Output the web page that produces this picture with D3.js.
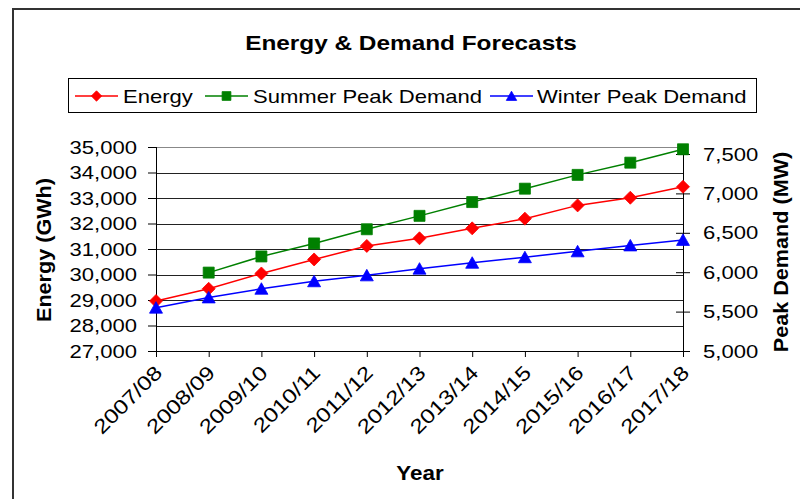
<!DOCTYPE html>
<html>
<head>
<meta charset="utf-8">
<script src="https://cdn.jsdelivr.net/npm/d3@7"></script>
<style>
  html, body { margin: 0; padding: 0; background: #fff; }
  svg { display: block; font-family: "Liberation Sans", Arial, sans-serif; }
</style>
</head>
<body>
<svg id="chart" width="800" height="499"></svg>
<script>
const years = ["2007/08","2008/09","2009/10","2010/11","2011/12","2012/13","2013/14","2014/15","2015/16","2016/17","2017/18"];
const energy = [28960, 29440, 30040, 30590, 31120, 31420, 31810, 32190, 32710, 33010, 33440];
const summerPeak = [null, 5995, 6200, 6365, 6545, 6715, 6890, 7060, 7235, 7390, 7560];
const winterPeak = [5550, 5680, 5790, 5885, 5960, 6045, 6120, 6190, 6265, 6340, 6410];
const energyTicks = [27000, 28000, 29000, 30000, 31000, 32000, 33000, 34000, 35000];
const demandTicks = [5000, 5500, 6000, 6500, 7000, 7500];

const svg = d3.select("#chart");
const L = 156, R = 683, T = 147, B = 351;

function stretch(sel, f) {
  sel.each(function() {
    const len = this.getComputedTextLength();
    d3.select(this).attr("textLength", len * f).attr("lengthAdjust", "spacingAndGlyphs");
  });
}

// outer frame (clipped by page)
svg.append("rect").attr("x", 13).attr("y", 9).attr("width", 800).attr("height", 520)
  .attr("fill", "none").attr("stroke", "#333").attr("stroke-width", 2);

const x = d3.scalePoint().domain(years).range([L, R]);
const yL = d3.scaleLinear().domain([27000, 35000]).range([B, T]);
const yR = d3.scaleLinear().domain([5000, 7500]).range([B, 154]);

// gridlines
svg.append("g").selectAll("line").data(energyTicks.slice(1)).join("line")
  .attr("x1", L).attr("x2", R)
  .attr("y1", d => Math.round(yL(d)) + 0.5).attr("y2", d => Math.round(yL(d)) + 0.5)
  .attr("stroke", d => d === 35000 ? "#888" : "#222").attr("stroke-width", 1);

// left axis
const gL = svg.append("g").attr("transform", `translate(${L},0)`)
  .call(d3.axisLeft(yL).tickValues(energyTicks).tickSize(8).tickPadding(11).tickFormat(d3.format(",")));
gL.select(".domain").remove();
gL.selectAll("line").attr("stroke", "#000");
gL.selectAll("text").attr("font-size", 19).attr("fill", "#000").attr("font-family", "Liberation Sans, Arial, sans-serif");
stretch(gL.selectAll("text"), 1.16);
svg.append("line").attr("x1", L + 0.5).attr("x2", L + 0.5).attr("y1", T).attr("y2", B).attr("stroke", "#000");

// right axis
const gR = svg.append("g").attr("transform", `translate(${R},0)`)
  .call(d3.axisRight(yR).tickValues(demandTicks).tickSize(7).tickPadding(13).tickFormat(d3.format(",")));
gR.select(".domain").remove();
gR.selectAll(".tick line").attr("x1", -7).attr("stroke", "#000");
gR.selectAll("text").attr("font-size", 19).attr("fill", "#000").attr("font-family", "Liberation Sans, Arial, sans-serif");
stretch(gR.selectAll("text"), 1.16);
svg.append("line").attr("x1", R + 0.5).attr("x2", R + 0.5).attr("y1", T).attr("y2", B + 6).attr("stroke", "#000");

// bottom axis
const gB = svg.append("g").attr("transform", `translate(0,${B})`)
  .call(d3.axisBottom(x).tickSize(6).tickPadding(8));
gB.select(".domain").attr("d", `M${L},0.5H${R}`).attr("stroke", "#000");
gB.selectAll("line").attr("stroke", "#000");
gB.selectAll("text")
  .attr("font-size", 20).attr("fill", "#000").attr("font-family", "Liberation Sans, Arial, sans-serif")
  .attr("text-anchor", "end").attr("dy", "0.35em")
  .attr("transform", "translate(2,18) rotate(-45)")
  .attr("y", 0).attr("x", 0);
stretch(gB.selectAll("text"), 1.2);

// series
const series = [
  { name: "Energy", values: energy, scale: yL, color: "#FF0000", shape: "diamond" },
  { name: "Summer Peak Demand", values: summerPeak, scale: yR, color: "#008000", shape: "square" },
  { name: "Winter Peak Demand", values: winterPeak, scale: yR, color: "#0000FF", shape: "triangle" }
];

function markerPath(shape) {
  if (shape === "diamond") return "M0,-6.5L6.5,0L0,6.5L-6.5,0Z";
  if (shape === "square") return "M-5.5,-5.5H5.5V5.5H-5.5Z";
  return "M0,-6L6.5,5.5H-6.5Z";
}

series.forEach(s => {
  const pts = years.map((yr, i) => ({ yr, v: s.values[i] })).filter(p => p.v != null);
  const line = d3.line().x(p => x(p.yr)).y(p => s.scale(p.v));
  svg.append("path").datum(pts).attr("d", line)
    .attr("fill", "none").attr("stroke", s.color).attr("stroke-width", 1.5);
  svg.append("g").selectAll("path").data(pts).join("path")
    .attr("d", markerPath(s.shape))
    .attr("transform", p => `translate(${x(p.yr)},${s.scale(p.v)})`)
    .attr("fill", s.color).attr("stroke", s.color).attr("stroke-width", 0.8);
});

// title
const title = svg.append("text").attr("x", 411).attr("y", 50).attr("text-anchor", "middle")
  .attr("font-size", 21).attr("font-weight", "bold").text("Energy & Demand Forecasts");
stretch(title, 1.16);

// legend
svg.append("rect").attr("x", 68.5).attr("y", 78.5).attr("width", 688).attr("height", 34)
  .attr("fill", "#fff").attr("stroke", "#000").attr("stroke-width", 1);
const legendPos = [{ lx: 75, tx: 123 }, { lx: 205, tx: 253 }, { lx: 490, tx: 537 }];
series.forEach((s, i) => {
  const p = legendPos[i];
  const g = svg.append("g");
  g.append("line").attr("x1", p.lx).attr("x2", p.lx + 43).attr("y1", 96).attr("y2", 96)
    .attr("stroke", s.color).attr("stroke-width", 1.5);
  g.append("path").attr("d", markerPath(s.shape)).attr("transform", `translate(${p.lx + 21.5},96) scale(0.8)`)
    .attr("fill", s.color).attr("stroke", s.color);
  const t = g.append("text").attr("x", p.tx).attr("y", 103).attr("font-size", 19).text(s.name);
  stretch(t, 1.16);
});

// axis titles
const yt = svg.append("text").attr("transform", "translate(51,250) rotate(-90)").attr("text-anchor", "middle")
  .attr("font-size", 20).attr("font-weight", "bold").text("Energy (GWh)");
stretch(yt, 1.08);
const rt = svg.append("text").attr("transform", "translate(788,252) rotate(-90)").attr("text-anchor", "middle")
  .attr("font-size", 20).attr("font-weight", "bold").text("Peak Demand (MW)");
stretch(rt, 1.08);
const xt = svg.append("text").attr("x", 420).attr("y", 480).attr("text-anchor", "middle")
  .attr("font-size", 20).attr("font-weight", "bold").text("Year");
stretch(xt, 1.12);
</script>
</body>
</html>
